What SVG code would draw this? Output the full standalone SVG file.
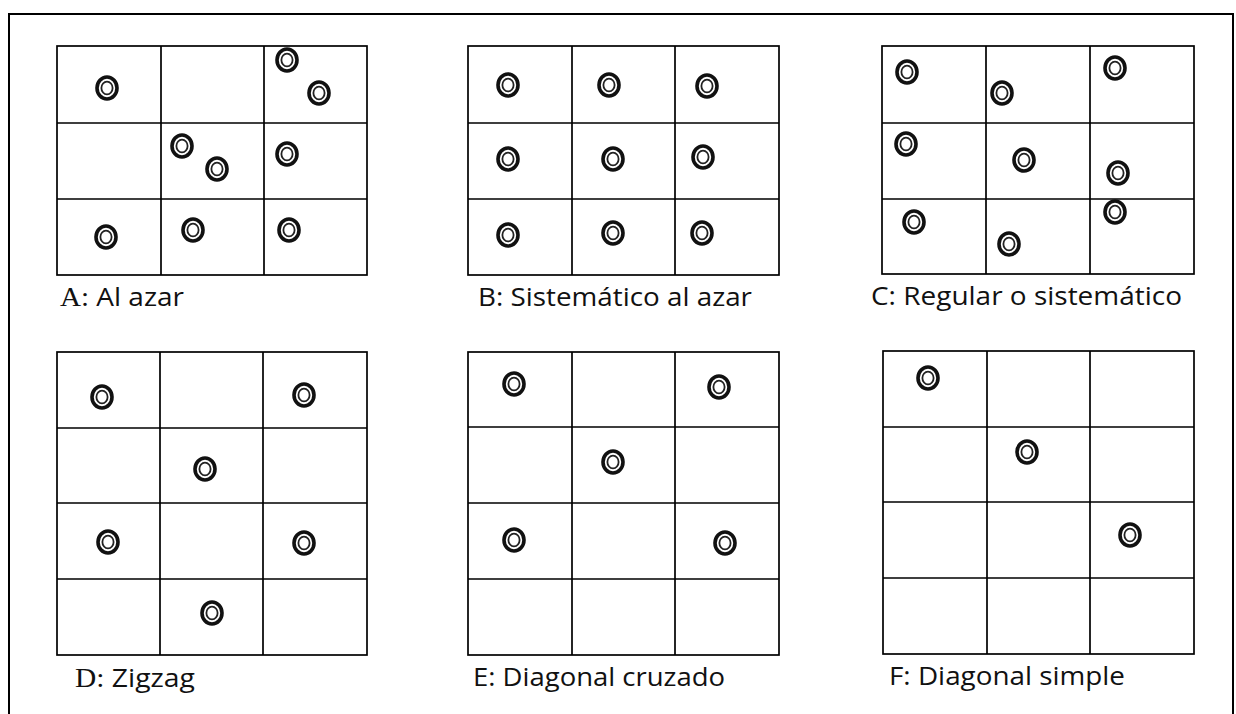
<svg xmlns="http://www.w3.org/2000/svg" xmlns:xlink="http://www.w3.org/1999/xlink" width="1236" height="714" viewBox="0 0 1236 714">
<style>
.frame{fill:none;stroke:#000;stroke-width:2}
.grid{fill:none;stroke:#000;stroke-width:1.7}
.lbl{font-family:"Open Sans","Liberation Sans",sans-serif;font-size:26px;fill:#111}
.ser{font-family:"Liberation Serif",serif;font-size:27px}
</style>
<defs>
<g id="ring">
<ellipse cx="0" cy="0" rx="10" ry="11" fill="#fff" stroke="#111" stroke-width="3.6"/>
<ellipse cx="0" cy="0" rx="5.6" ry="6.4" fill="#fff" stroke="#222" stroke-width="1.8"/>
</g>
</defs>
<rect x="0" y="0" width="1236" height="714" fill="#fff"/>
<path class="frame" d="M9,714 V14 H1233 V714"/>

<g id="panelA">
<rect class="grid" x="57" y="46" width="310" height="229"/>
<path class="grid" d="M161,46V275M264,46V275M57,123H367M57,199H367"/>
<use xlink:href="#ring" x="107" y="88"/>
<use xlink:href="#ring" x="287" y="60"/>
<use xlink:href="#ring" x="319" y="93"/>
<use xlink:href="#ring" x="182" y="146"/>
<use xlink:href="#ring" x="217" y="169"/>
<use xlink:href="#ring" x="287" y="154"/>
<use xlink:href="#ring" x="106" y="237"/>
<use xlink:href="#ring" x="193" y="230"/>
<use xlink:href="#ring" x="289" y="230"/>
<text class="lbl" x="60" y="306" textLength="124" lengthAdjust="spacingAndGlyphs"><tspan class="ser">A:</tspan> Al azar</text>
</g>

<g id="panelB">
<rect class="grid" x="468" y="46" width="311" height="229"/>
<path class="grid" d="M572,46V275M675,46V275M468,123H779M468,199H779"/>
<use xlink:href="#ring" x="508" y="85"/>
<use xlink:href="#ring" x="609" y="85"/>
<use xlink:href="#ring" x="707" y="86"/>
<use xlink:href="#ring" x="508" y="159"/>
<use xlink:href="#ring" x="613" y="159"/>
<use xlink:href="#ring" x="703" y="157"/>
<use xlink:href="#ring" x="508" y="235"/>
<use xlink:href="#ring" x="613" y="233"/>
<use xlink:href="#ring" x="702" y="233"/>
<text class="lbl" x="478" y="306" textLength="274" lengthAdjust="spacingAndGlyphs">B: Sistemático al azar</text>
</g>

<g id="panelC">
<rect class="grid" x="882" y="46" width="312" height="228"/>
<path class="grid" d="M986,46V274M1090,46V274M882,123H1194M882,199H1194"/>
<use xlink:href="#ring" x="907" y="72"/>
<use xlink:href="#ring" x="1002" y="93"/>
<use xlink:href="#ring" x="1115" y="68"/>
<use xlink:href="#ring" x="906" y="144"/>
<use xlink:href="#ring" x="1024" y="160"/>
<use xlink:href="#ring" x="1118" y="173"/>
<use xlink:href="#ring" x="914" y="222"/>
<use xlink:href="#ring" x="1115" y="212"/>
<use xlink:href="#ring" x="1009" y="244"/>
<text class="lbl" x="871" y="305" textLength="311" lengthAdjust="spacingAndGlyphs">C: Regular o sistemático</text>
</g>

<g id="panelD">
<rect class="grid" x="57" y="352" width="310" height="303"/>
<path class="grid" d="M160,352V655M263,352V655M57,428H367M57,503H367M57,579H367"/>
<use xlink:href="#ring" x="102" y="397"/>
<use xlink:href="#ring" x="304" y="395"/>
<use xlink:href="#ring" x="205" y="469"/>
<use xlink:href="#ring" x="108" y="542"/>
<use xlink:href="#ring" x="304" y="543"/>
<use xlink:href="#ring" x="212" y="613"/>
<text class="lbl" x="75" y="687" textLength="120" lengthAdjust="spacingAndGlyphs"><tspan class="ser">D:</tspan> Zigzag</text>
</g>

<g id="panelE">
<rect class="grid" x="468" y="352" width="311" height="303"/>
<path class="grid" d="M572,352V655M675,352V655M468,427H779M468,503H779M468,579H779"/>
<use xlink:href="#ring" x="514" y="384"/>
<use xlink:href="#ring" x="719" y="387"/>
<use xlink:href="#ring" x="613" y="462"/>
<use xlink:href="#ring" x="514" y="540"/>
<use xlink:href="#ring" x="725" y="543"/>
<text class="lbl" x="473" y="686" textLength="252" lengthAdjust="spacingAndGlyphs">E: Diagonal cruzado</text>
</g>

<g id="panelF">
<rect class="grid" x="883" y="351" width="311" height="303"/>
<path class="grid" d="M987,351V654M1090,351V654M883,427H1194M883,502H1194M883,578H1194"/>
<use xlink:href="#ring" x="928" y="378"/>
<use xlink:href="#ring" x="1027" y="452"/>
<use xlink:href="#ring" x="1130" y="535"/>
<text class="lbl" x="889" y="685" textLength="236" lengthAdjust="spacingAndGlyphs">F: Diagonal simple</text>
</g>
</svg>
